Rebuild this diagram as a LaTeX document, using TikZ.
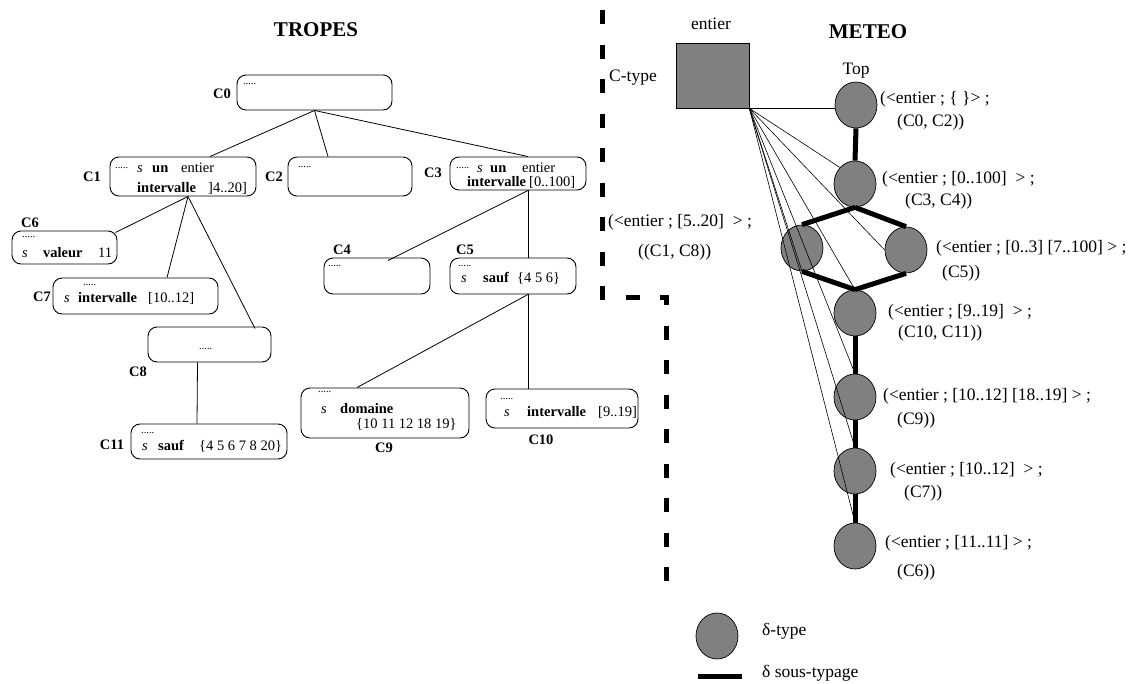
\documentclass[tikz,border=0pt]{standalone}
\usepackage{fontspec}
\setmainfont{Liberation Serif}
\usetikzlibrary{shapes.geometric}

\newcommand{\pts}{{\fontsize{10.5}{10.5}\selectfont .....}}
\newcommand{\bx}[2]{\makebox[#1pt][l]{#2}}

\begin{document}
\begin{tikzpicture}[x=1pt,y=-1pt,
    concept/.style={draw,line width=0.9pt,rounded corners=9pt,inner sep=0pt},
    ctext/.style={anchor=west,inner sep=0pt,font=\fontsize{14.5}{17}\selectfont},
    cname/.style={inner sep=0pt,font=\fontsize{14.5}{17}\selectfont\bfseries},
    dtype/.style={ellipse,draw,line width=0.7pt,fill=gray,minimum width=42pt,minimum height=46pt,inner sep=0pt},
    mtext/.style={anchor=west,inner sep=0pt,font=\fontsize{17.5}{20}\selectfont},
    link/.style={line width=0.8pt},
    fan/.style={line width=0.6pt},
    sub/.style={line width=5pt}]
    \useasboundingbox (0,0) rectangle (1130,683);

    % TROPES
    \node [inner sep=0pt,font=\fontsize{21}{24}\selectfont\bfseries] (tropes) at (316,30) {TROPES};

    \node [concept,minimum width=155pt,minimum height=35pt] (c0) at (314.5,92.5) {};
    \node [cname] (c0n) at (222,94) {C0};
    \node [ctext] (c0a) at (243,84) {\pts};

    \node [concept,minimum width=146pt,minimum height=39pt] (c1) at (183,176.5) {};
    \node [cname] (c1n) at (92,177) {C1};
    \node [ctext] (c1a) at (115,168) {\bx{22}{\raisebox{4pt}{\pts}}\bx{15}{\textit{s}}\bx{29}{\textbf{un}}entier};
    \node [ctext] (c1b) at (137,188) {\bx{71}{\textbf{intervalle}}]4..20]};

    \node [concept,minimum width=124pt,minimum height=39pt] (c2) at (350,176.5) {};
    \node [cname] (c2n) at (274,177) {C2};
    \node [ctext] (c2a) at (298,167) {\pts};

    \node [concept,minimum width=136pt,minimum height=33pt] (c3) at (518,173.5) {};
    \node [cname] (c3n) at (433,173) {C3};
    \node [ctext] (c3a) at (456,168) {\bx{21}{\raisebox{4pt}{\pts}}\bx{13}{\textit{s}}\bx{32}{\textbf{un}}entier};
    \node [ctext] (c3b) at (467,182) {\bx{62}{\textbf{intervalle}}[0..100]};

    \node [concept,minimum width=106pt,minimum height=36pt] (c4) at (377,276) {};
    \node [cname] (c4n) at (342,250) {C4};
    \node [ctext] (c4a) at (328,266) {\pts};

    \node [concept,minimum width=126pt,minimum height=36pt] (c5) at (513,276) {};
    \node [cname] (c5n) at (465,250) {C5};
    \node [ctext] (c5a) at (458,266) {\pts};
    \node [ctext] (c5b) at (461,278) {\bx{22}{\textit{s}}\bx{34}{\textbf{sauf}}\{4 5 6\}};

    \node [concept,minimum width=105pt,minimum height=33pt] (c6) at (64.5,247.5) {};
    \node [cname] (c6n) at (30,223) {C6};
    \node [ctext] (c6a) at (22,237) {\pts};
    \node [ctext] (c6b) at (22,253) {\bx{21}{\textit{s}}\bx{55}{\textbf{valeur}}11};

    \node [concept,minimum width=165pt,minimum height=36pt] (c7) at (135.5,296) {};
    \node [cname] (c7n) at (42,297) {C7};
    \node [ctext] (c7a) at (83,285) {\pts};
    \node [ctext] (c7b) at (64,298) {\bx{14}{\textit{s}}\bx{70}{\textbf{intervalle}}[10..12]};

    \node [concept,minimum width=123pt,minimum height=35pt] (c8) at (209.5,344.5) {};
    \node [cname] (c8n) at (138,372) {C8};
    \node [ctext] (c8a) at (199,349) {\pts};

    \node [concept,minimum width=168pt,minimum height=50pt] (c9) at (385,413) {};
    \node [cname] (c9n) at (384,448) {C9};
    \node [ctext] (c9a) at (318,392) {\pts};
    \node [ctext] (c9b) at (321,409) {\bx{19}{\textit{s}}\textbf{domaine}};
    \node [ctext] (c9c) at (356,424) {\{10 11 12 18 19\}};

    \node [concept,minimum width=152pt,minimum height=39pt] (c10) at (562,408.5) {};
    \node [cname] (c10n) at (541,440) {C10};
    \node [ctext] (c10a) at (500,399) {\pts};
    \node [ctext] (c10b) at (504,412) {\bx{23}{\textit{s}}\bx{71}{\textbf{intervalle}}[9..19]};

    \node [concept,minimum width=156pt,minimum height=35pt] (c11) at (209,441.5) {};
    \node [cname] (c11n) at (112,445) {C11};
    \node [ctext] (c11a) at (141,433) {\pts};
    \node [ctext] (c11b) at (142,446) {\bx{16}{\textit{s}}\bx{41}{\textbf{sauf}}\{4 5 6 7 8 20\}};

    \draw [link] (c0.south) -- ([xshift=27pt]c1.north);
    \draw [link] (c0.south) -- ([xshift=-22pt]c2.north);
    \draw [link] (c0.south) -- ([xshift=10pt]c3.north);
    \draw [link] ([xshift=5pt]c1.south) -- ([xshift=-2pt,yshift=-2pt]c6.north east);
    \draw [link] ([xshift=5pt]c1.south) -- ([xshift=31.5pt]c7.north);
    \draw [link] ([xshift=5pt]c1.south) -- ([xshift=45.5pt,yshift=-2pt]c8.north);
    \draw [link] ([xshift=-12pt]c8.south) -- ([xshift=-12pt]c11.north);
    \draw [link] ([xshift=10pt]c3.south) -- ([xshift=11pt,yshift=-3pt]c4.north);
    \draw [link] ([xshift=10pt]c3.south) -- ([xshift=15pt]c5.north);
    \draw [link] ([xshift=15pt]c5.south) -- ([xshift=-28pt]c9.north);
    \draw [link] ([xshift=15pt]c5.south) -- ([xshift=-34pt]c10.north);

    % separation
    \draw [line width=5pt,dash pattern=on 14pt off 20.5pt] (602,10) -- (602,297) -- (666,297) -- (666,592);

    % METEO
    \node [inner sep=0pt,font=\fontsize{21}{24}\selectfont\bfseries] (meteo) at (868,32) {METEO};
    \node [mtext,anchor=center] (entl) at (711,24) {entier};
    \node [draw,line width=0.7pt,fill=gray,minimum width=73pt,minimum height=65pt,inner sep=0pt] (ent) at (712.5,75.5) {};
    \node [mtext] (ctype) at (609,78) {C-type};
    \node [mtext] (c18a) at (608,222) {(<entier ; [5..20]\ \ > ;};
    \node [mtext] (c18b) at (638,252) {((C1, C8))};

    \node [mtext,anchor=center] (topl) at (856,71) {Top};
    \node [dtype] (top) at (856,105) {};
    \node [dtype] (d1) at (855,184) {};
    \node [dtype] (dl) at (802,248) {};
    \node [dtype] (dr) at (906,250) {};
    \node [dtype] (d2) at (855,313) {};
    \node [dtype] (d3) at (855,397) {};
    \node [dtype] (d4) at (855,471) {};
    \node [dtype] (d5) at (855,546) {};

    \node [mtext] (m0a) at (880,99) {(<entier ; \{ \}> ;};
    \node [mtext] (m0b) at (897,122) {(C0, C2))};
    \node [mtext] (m1a) at (882,179) {(<entier ; [0..100]\ \ > ;};
    \node [mtext] (m1b) at (905,201) {(C3, C4))};
    \node [mtext] (mra) at (936,248) {(<entier ; [0..3] [7..100] > ;};
    \node [mtext] (mrb) at (942,273) {(C5))};
    \node [mtext] (m2a) at (888,312) {(<entier ; [9..19]\ \ > ;};
    \node [mtext] (m2b) at (898,333) {(C10, C11))};
    \node [mtext] (m3a) at (883,396) {(<entier ; [10..12] [18..19] > ;};
    \node [mtext] (m3b) at (897,420) {(C9))};
    \node [mtext] (m4a) at (890,470) {(<entier ; [10..12]\ \ > ;};
    \node [mtext] (m4b) at (904,493) {(C7))};
    \node [mtext] (m5a) at (885,543) {(<entier ; [11..11] > ;};
    \node [mtext] (m5b) at (897,572) {(C6))};

    \draw [fan] (ent.south east) -- (ent.south east -| top.west);
    \draw [fan] (ent.south east) -- (d1.north west);
    \draw [fan] (ent.south east) -- (dl.south);
    \draw [fan] (ent.south east) -- (dr.west);
    \draw [fan] (ent.south east) -- (d2.north);
    \draw [fan] (ent.south east) -- (d3.north);
    \draw [fan] (ent.south east) -- (d4.north);
    \draw [fan] (ent.south east) -- (d5.north);

    \draw [sub] (top.south) -- (d1.north);
    \draw [sub] (d1.south) -- (dl.north);
    \draw [sub] (d1.south) -- (dr.north);
    \draw [sub] (dl.south) -- (d2.north);
    \draw [sub] (dr.south) -- (d2.north);
    \draw [sub] (d2.south) -- (d3.north);
    \draw [sub] (d3.south) -- (d4.north);
    \draw [sub] (d4.south) -- (d5.north);

    % legend
    \node [dtype] (lg) at (717,636) {};
    \node [mtext] (lgt) at (762,631) {δ-type};
    \coordinate (ls) at (698,676);
    \coordinate (le) at (742,676);
    \draw [sub] (ls) -- (le);
    \node [mtext] (lgs) at (762,673) {δ sous-typage};
\end{tikzpicture}
\end{document}
